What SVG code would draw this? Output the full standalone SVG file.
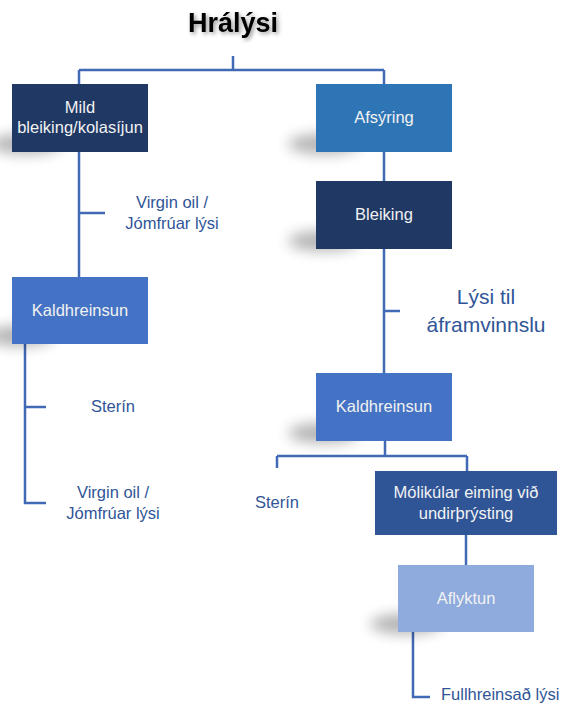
<svg xmlns="http://www.w3.org/2000/svg" width="561" height="706" viewBox="0 0 561 706">
  <style>
    .line { fill: none; stroke: #4169B5; stroke-width: 2.5; }
    .box text { font-family: "Liberation Sans", Arial, sans-serif; font-size: 16.5px; fill: #F2F2F2; text-anchor: middle; }
    .lbl { font-family: "Liberation Sans", Arial, sans-serif; font-size: 16.5px; fill: #2F5597; text-anchor: middle; }
    .start { text-anchor: start; }
    .big { font-size: 21px; }
    .shadow { fill: #000; opacity: 0.3; filter: url(#blur); }
    .navy { fill: #1F3864; }
    .mid { fill: #2E75B6; }
    .kald { fill: #4472C4; }
    .dark { fill: #2F5597; }
    .light { fill: #8FAADC; }
  </style>
  <defs>
    <filter id="blur" x="-60%" y="-150%" width="220%" height="400%">
      <feGaussianBlur stdDeviation="7"/>
    </filter>
    <filter id="tshadow" x="-20%" y="-40%" width="140%" height="180%">
      <feGaussianBlur in="SourceAlpha" stdDeviation="2" result="b"/>
      <feOffset dx="2" dy="2" in="b" result="o"/>
      <feFlood flood-color="#000" flood-opacity="0.4"/>
      <feComposite in2="o" operator="in" result="s"/>
      <feMerge><feMergeNode in="s"/><feMergeNode in="SourceGraphic"/></feMerge>
    </filter>
  </defs>

  <rect width="561" height="706" fill="#FFFFFF"/>

  <g id="title">
    <text x="233" y="32" font-family="'Liberation Sans', Arial, sans-serif" font-size="27" font-weight="bold" fill="#000" text-anchor="middle" filter="url(#tshadow)">Hrálýsi</text>
  </g>

  <g id="connectors">
    <path class="line" d="M233 56 V70 M79 70 H384 M79 70 V84 M384 70 V84"/>
    <path class="line" d="M79 152 V277 M79 213 H105"/>
    <path class="line" d="M25 344 V503 H46 M25 407 H46"/>
    <path class="line" d="M384 152 V181"/>
    <path class="line" d="M384 249 V373 M384 311 H400"/>
    <path class="line" d="M385 441 V456 M277 456 H467 M277 456 V468 M467 456 V471"/>
    <path class="line" d="M466 535 V565"/>
    <path class="line" d="M413 632 V697 H430"/>
  </g>

  <g id="mild" class="box">
    <ellipse class="shadow" cx="26" cy="144" rx="36" ry="10"/>
    <rect class="navy" x="12" y="84" width="136" height="68"/>
    <text x="80" y="113">Mild</text>
    <text x="80" y="133">bleiking/kolasíjun</text>
  </g>

  <g id="afsyring" class="box">
    <ellipse class="shadow" cx="324" cy="144" rx="36" ry="10"/>
    <rect class="mid" x="316" y="84" width="136" height="68"/>
    <text x="384" y="123">Afsýring</text>
  </g>

  <g id="bleiking" class="box">
    <ellipse class="shadow" cx="324" cy="241" rx="36" ry="10"/>
    <rect class="navy" x="316" y="181" width="136" height="68"/>
    <text x="384" y="220">Bleiking</text>
  </g>

  <g id="kald-left" class="box">
    <ellipse class="shadow" cx="20" cy="336" rx="34" ry="10"/>
    <rect class="kald" x="12" y="277" width="136" height="67"/>
    <text x="80" y="316">Kaldhreinsun</text>
  </g>

  <g id="kald-right" class="box">
    <ellipse class="shadow" cx="324" cy="433" rx="36" ry="10"/>
    <rect class="kald" x="316" y="373" width="136" height="68"/>
    <text x="384" y="412">Kaldhreinsun</text>
  </g>

  <g id="molikular" class="box">
    <rect class="dark" x="375" y="471" width="182" height="64"/>
    <text x="466" y="498">Mólikúlar eiming við</text>
    <text x="466" y="519">undirþrýsting</text>
  </g>

  <g id="aflyktun" class="box">
    <ellipse class="shadow" cx="406" cy="624" rx="36" ry="10"/>
    <rect class="light" x="398" y="565" width="136" height="67"/>
    <text x="466" y="604">Aflyktun</text>
  </g>

  <g id="label-virgin1">
    <text class="lbl" x="172" y="208">Virgin oil /</text>
    <text class="lbl" x="172" y="229">Jómfrúar lýsi</text>
  </g>
  <g id="label-lysi">
    <text class="lbl big" x="486" y="304">Lýsi til</text>
    <text class="lbl big" x="486" y="332">áframvinnslu</text>
  </g>
  <g id="label-sterin1">
    <text class="lbl" x="113" y="412">Sterín</text>
  </g>
  <g id="label-virgin2">
    <text class="lbl" x="113" y="498">Virgin oil /</text>
    <text class="lbl" x="113" y="519">Jómfrúar lýsi</text>
  </g>
  <g id="label-sterin2">
    <text class="lbl" x="277" y="508">Sterín</text>
  </g>
  <g id="label-full">
    <text class="lbl start" x="441" y="700">Fullhreinsað lýsi</text>
  </g>
</svg>
